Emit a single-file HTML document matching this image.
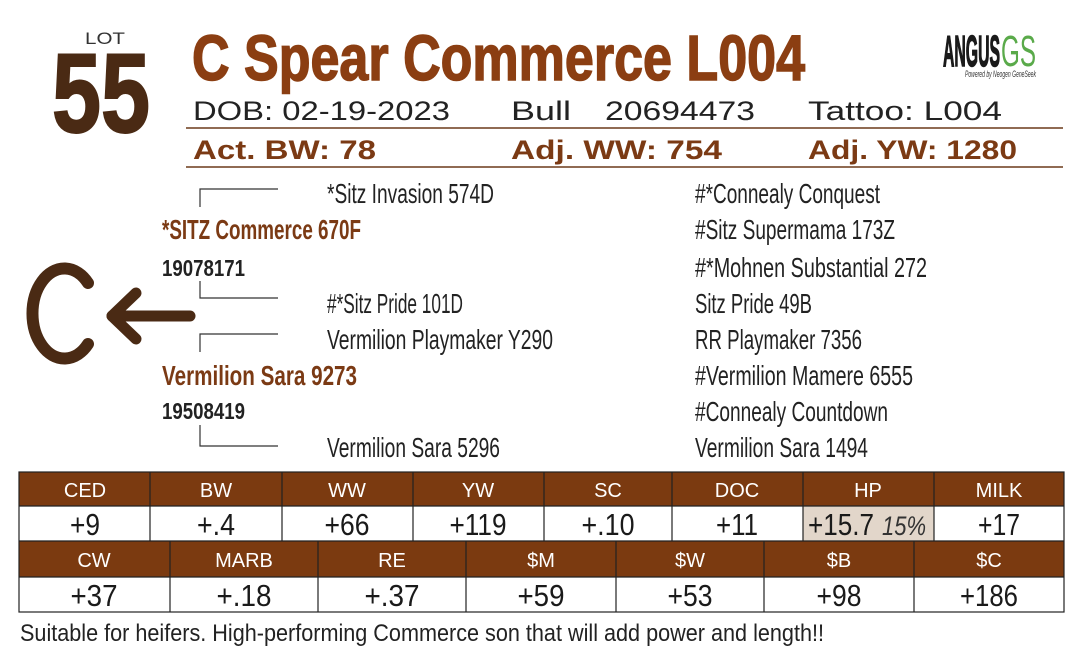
<!DOCTYPE html>
<html><head><meta charset="utf-8"><style>
html,body{margin:0;padding:0;background:#fff;}
svg{display:block;}
</style></head><body>
<svg width="1083" height="663" viewBox="0 0 1083 663" xmlns="http://www.w3.org/2000/svg" font-family="Liberation Sans, sans-serif">
<rect width="1083" height="663" fill="#fff"/>
<text x="85" y="44" font-size="17" fill="#333" textLength="40" lengthAdjust="spacingAndGlyphs">LOT</text>
<text x="52" y="132" font-size="112" font-weight="bold" fill="#4a2a14" stroke="#4a2a14" stroke-width="2" textLength="98" lengthAdjust="spacingAndGlyphs">55</text>
<text x="192" y="80" font-size="64" font-weight="bold" fill="#8b3e12" stroke="#8b3e12" stroke-width="1.5" textLength="613" lengthAdjust="spacingAndGlyphs">C Spear Commerce L004</text>
<text x="943" y="66" font-size="44" font-weight="bold" fill="#1a1a1a" stroke="#1a1a1a" stroke-width="1.5" textLength="57" lengthAdjust="spacingAndGlyphs">ANGUS</text>
<text x="1001" y="66" font-size="44" fill="#5aaa4a" textLength="35" lengthAdjust="spacingAndGlyphs">GS</text>
<text x="965" y="77" font-size="9" font-style="italic" fill="#333" textLength="71" lengthAdjust="spacingAndGlyphs">Powered by Neogen GeneSeek</text>
<g font-size="27" fill="#222">
<text x="193" y="120" textLength="257" lengthAdjust="spacingAndGlyphs">DOB: 02-19-2023</text>
<text x="511" y="120" textLength="60" lengthAdjust="spacingAndGlyphs">Bull</text>
<text x="605" y="120" textLength="150" lengthAdjust="spacingAndGlyphs">20694473</text>
<text x="808" y="120" textLength="194" lengthAdjust="spacingAndGlyphs">Tattoo: L004</text>
</g>
<line x1="186" y1="128" x2="1063" y2="128" stroke="#6b3a1a" stroke-width="1.5"/>
<g font-size="27" font-weight="bold" fill="#7b3a14">
<text x="193" y="159" textLength="183" lengthAdjust="spacingAndGlyphs">Act. BW: 78</text>
<text x="511" y="159" textLength="211" lengthAdjust="spacingAndGlyphs">Adj. WW: 754</text>
<text x="808" y="159" textLength="209" lengthAdjust="spacingAndGlyphs">Adj. YW: 1280</text>
</g>
<line x1="186" y1="167" x2="1063" y2="167" stroke="#6b3a1a" stroke-width="1.5"/>
<path d="M88 283 A32 45 0 1 0 88 344" fill="none" stroke="#4a2a14" stroke-width="12" stroke-linecap="round"/>
<line x1="112" y1="316" x2="190" y2="316" stroke="#4a2a14" stroke-width="11" stroke-linecap="round"/>
<polyline points="136,293 112,316 136,339" fill="none" stroke="#4a2a14" stroke-width="11" stroke-linecap="round" stroke-linejoin="round"/>
<g stroke="#333" stroke-width="1.2" fill="none">
<polyline points="200,207 200,189 278,189"/>
<polyline points="200,281 200,298 278,298"/>
<polyline points="200,352 200,334 278,334"/>
<polyline points="200,425 200,446 278,446"/>
</g>
<g font-size="28" fill="#222">
<text x="327" y="203" textLength="167" lengthAdjust="spacingAndGlyphs">*Sitz Invasion 574D</text>
<text x="327" y="313" textLength="136" lengthAdjust="spacingAndGlyphs">#*Sitz Pride 101D</text>
<text x="327" y="349" textLength="226" lengthAdjust="spacingAndGlyphs">Vermilion Playmaker Y290</text>
<text x="327" y="457" textLength="173" lengthAdjust="spacingAndGlyphs">Vermilion Sara 5296</text>
<text x="695" y="203" textLength="185" lengthAdjust="spacingAndGlyphs">#*Connealy Conquest</text>
<text x="695" y="239" textLength="200" lengthAdjust="spacingAndGlyphs">#Sitz Supermama 173Z</text>
<text x="695" y="277" textLength="232" lengthAdjust="spacingAndGlyphs">#*Mohnen Substantial 272</text>
<text x="695" y="313" textLength="117" lengthAdjust="spacingAndGlyphs">Sitz Pride 49B</text>
<text x="695" y="349" textLength="167" lengthAdjust="spacingAndGlyphs">RR Playmaker 7356</text>
<text x="695" y="385" textLength="218" lengthAdjust="spacingAndGlyphs">#Vermilion Mamere 6555</text>
<text x="695" y="421" textLength="193" lengthAdjust="spacingAndGlyphs">#Connealy Countdown</text>
<text x="695" y="457" textLength="173" lengthAdjust="spacingAndGlyphs">Vermilion Sara 1494</text>
</g>
<g font-size="28" font-weight="bold" fill="#7b3a14">
<text x="162" y="239" textLength="199" lengthAdjust="spacingAndGlyphs">*SITZ Commerce 670F</text>
<text x="162" y="385" textLength="195" lengthAdjust="spacingAndGlyphs">Vermilion Sara 9273</text>
</g>
<g font-size="23" font-weight="bold" fill="#222">
<text x="162" y="276" textLength="83" lengthAdjust="spacingAndGlyphs">19078171</text>
<text x="162" y="419" textLength="83" lengthAdjust="spacingAndGlyphs">19508419</text>
</g>
<rect x="19" y="472" width="1045" height="34" fill="#7b3a10"/>
<rect x="19" y="541" width="1045" height="36" fill="#7b3a10"/>
<rect x="803" y="506" width="131" height="35" fill="#e2d6ca"/>
<g stroke="#222" stroke-width="1.2" fill="none">
<rect x="19" y="472" width="1045" height="140"/>
<line x1="19" y1="506" x2="1064" y2="506"/>
<line x1="19" y1="541" x2="1064" y2="541"/>
<line x1="19" y1="577" x2="1064" y2="577"/>
<line x1="150" y1="472" x2="150" y2="541"/><line x1="282" y1="472" x2="282" y2="541"/>
<line x1="413" y1="472" x2="413" y2="541"/><line x1="544" y1="472" x2="544" y2="541"/>
<line x1="672" y1="472" x2="672" y2="541"/><line x1="803" y1="472" x2="803" y2="541"/>
<line x1="934" y1="472" x2="934" y2="541"/>
<line x1="170" y1="541" x2="170" y2="612"/><line x1="318" y1="541" x2="318" y2="612"/>
<line x1="466" y1="541" x2="466" y2="612"/><line x1="616" y1="541" x2="616" y2="612"/>
<line x1="764" y1="541" x2="764" y2="612"/><line x1="914" y1="541" x2="914" y2="612"/>
</g>
<g font-size="20" fill="#fff" text-anchor="middle">
<text x="85" y="497">CED</text><text x="216" y="497">BW</text><text x="347" y="497">WW</text>
<text x="478" y="497">YW</text><text x="608" y="497">SC</text><text x="737" y="497">DOC</text>
<text x="868" y="497">HP</text><text x="999" y="497">MILK</text>
<text x="94" y="567">CW</text><text x="244" y="567">MARB</text><text x="392" y="567">RE</text>
<text x="541" y="567">$M</text><text x="690" y="567">$W</text><text x="839" y="567">$B</text><text x="989" y="567">$C</text>
</g>
<g font-size="31" fill="#1a1a1a" text-anchor="middle">
<text x="85" y="535" textLength="30" lengthAdjust="spacingAndGlyphs">+9</text>
<text x="216" y="535" textLength="38" lengthAdjust="spacingAndGlyphs">+.4</text>
<text x="347" y="535" textLength="45" lengthAdjust="spacingAndGlyphs">+66</text>
<text x="478" y="535" textLength="57" lengthAdjust="spacingAndGlyphs">+119</text>
<text x="608" y="535" textLength="53" lengthAdjust="spacingAndGlyphs">+.10</text>
<text x="737" y="535" textLength="42" lengthAdjust="spacingAndGlyphs">+11</text>
<text x="999" y="535" textLength="42" lengthAdjust="spacingAndGlyphs">+17</text>
<text x="94" y="606" textLength="47" lengthAdjust="spacingAndGlyphs">+37</text>
<text x="244" y="606" textLength="55" lengthAdjust="spacingAndGlyphs">+.18</text>
<text x="392" y="606" textLength="55" lengthAdjust="spacingAndGlyphs">+.37</text>
<text x="541" y="606" textLength="47" lengthAdjust="spacingAndGlyphs">+59</text>
<text x="690" y="606" textLength="45" lengthAdjust="spacingAndGlyphs">+53</text>
<text x="839" y="606" textLength="45" lengthAdjust="spacingAndGlyphs">+98</text>
<text x="989" y="606" textLength="58" lengthAdjust="spacingAndGlyphs">+186</text>
</g>
<text x="808" y="535" font-size="31" fill="#1a1a1a" textLength="66" lengthAdjust="spacingAndGlyphs">+15.7</text>
<text x="882" y="535" font-size="27" font-style="italic" fill="#333" textLength="44" lengthAdjust="spacingAndGlyphs">15%</text>
<text x="20" y="641" font-size="24" fill="#222" textLength="804" lengthAdjust="spacingAndGlyphs">Suitable for heifers. High-performing Commerce son that will add power and length!!</text>
</svg>
</body></html>
